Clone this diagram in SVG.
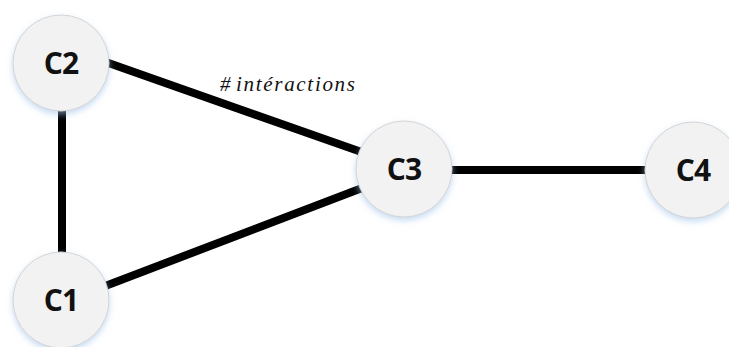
<svg xmlns="http://www.w3.org/2000/svg" width="729" height="347" viewBox="0 0 729 347">
  <style>
    .edge { stroke: #000; stroke-width: 8; stroke-linecap: round; fill: none; }
    .node circle { fill: #f2f2f2; stroke: #d4d4d4; stroke-width: 1; filter: url(#glow); }
    .node text { font-family: "Open Sans", "Liberation Sans", sans-serif; font-weight: 700; font-size: 30px; fill: #111; text-anchor: middle; letter-spacing: -1px; }
    .lbl { font-family: "Liberation Serif", serif; font-style: italic; font-size: 21px; fill: #111; }
  </style>
  <defs>
    <filter id="glow" x="-30%" y="-30%" width="160%" height="170%">
      <feDropShadow dx="0" dy="3" stdDeviation="3" flood-color="#9fc3e8" flood-opacity="0.6"/>
    </filter>
  </defs>
  <rect width="729" height="347" fill="#fff"/>
  <g id="edges">
    <line class="edge" x1="62" y1="100" x2="62" y2="260"/>
    <line class="edge" x1="100" y1="60" x2="370" y2="155"/>
    <line class="edge" x1="100" y1="288" x2="370" y2="185"/>
    <line class="edge" x1="452" y1="170" x2="645" y2="170"/>
    <text class="lbl" x="220" y="91">#<tspan x="236" textLength="119" lengthAdjust="spacing">intéractions</tspan></text>
  </g>
  <g id="C2" class="node">
    <circle cx="61" cy="63" r="48"/>
    <text x="61" y="74">C2</text>
  </g>
  <g id="C1" class="node">
    <circle cx="61" cy="300" r="48"/>
    <text x="61" y="311">C1</text>
  </g>
  <g id="C3" class="node">
    <circle cx="404" cy="169" r="48"/>
    <text x="404" y="180">C3</text>
  </g>
  <g id="C4" class="node">
    <circle cx="693" cy="170" r="48"/>
    <text x="693" y="181">C4</text>
  </g>
</svg>
